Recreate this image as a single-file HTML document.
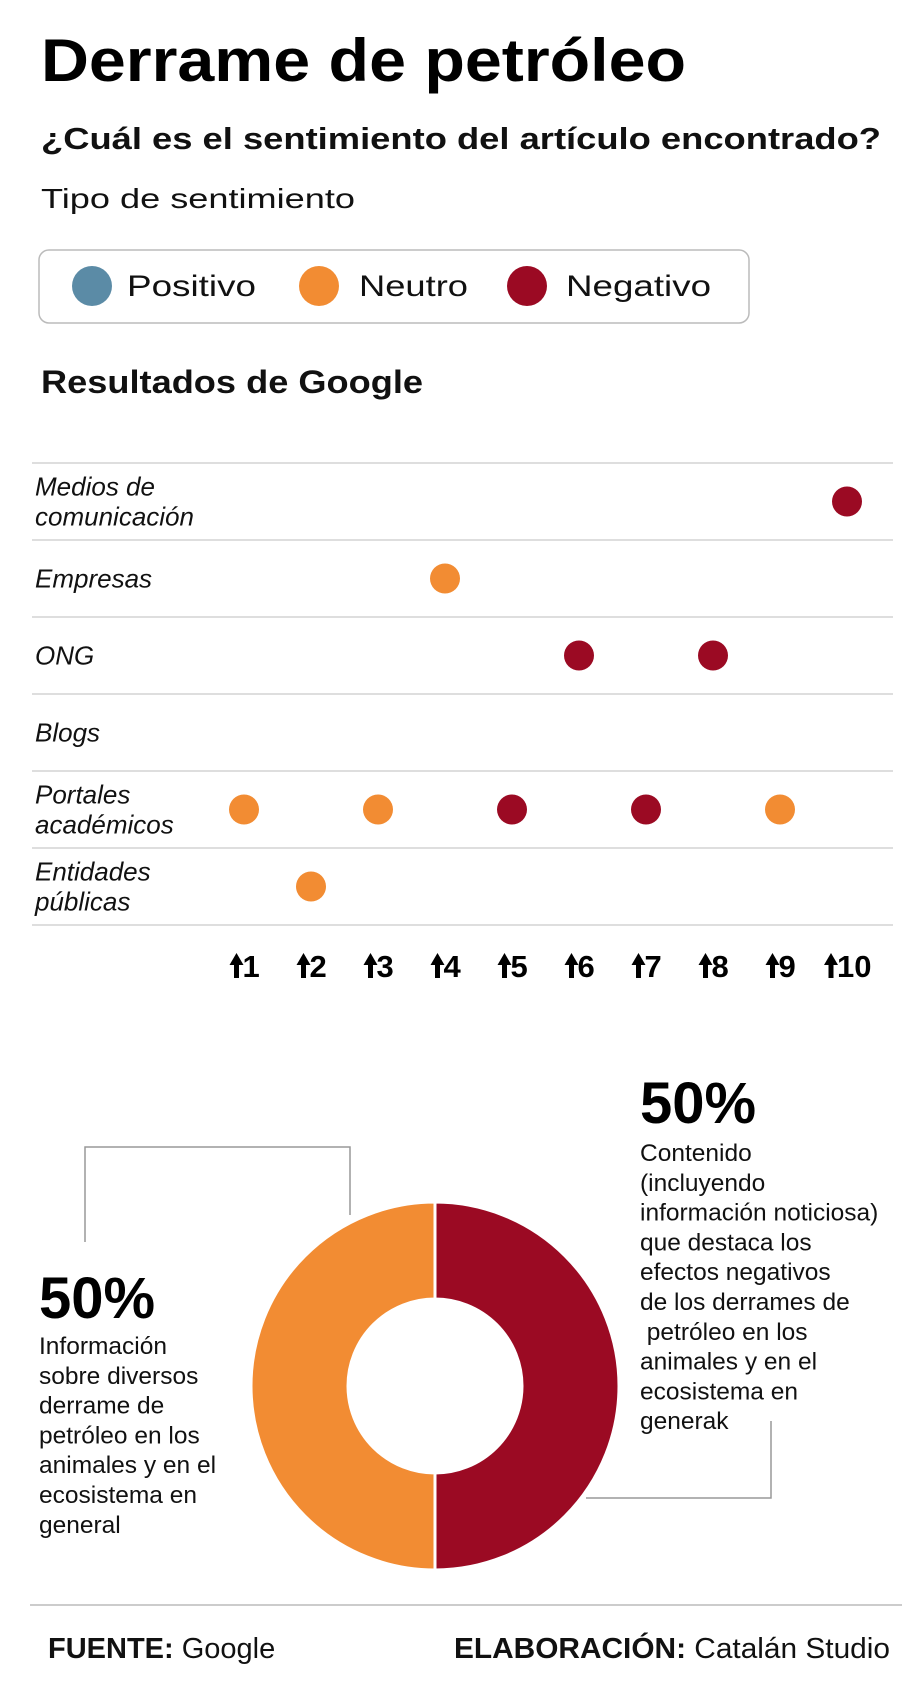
<!DOCTYPE html>
<html><head><meta charset="utf-8"><style>
body{margin:0;background:#fff;}
svg{display:block;font-family:"Liberation Sans",sans-serif;}
</style></head><body>
<svg id="chart" width="920" height="1690" viewBox="0 0 920 1690">
<text x="41" y="81" font-size="60" font-weight="bold" fill="#000" textLength="645" lengthAdjust="spacingAndGlyphs">Derrame de petróleo</text>
<text x="41" y="149" font-size="31" font-weight="bold" fill="#111" textLength="840" lengthAdjust="spacingAndGlyphs">¿Cuál es el sentimiento del artículo encontrado?</text>
<text x="41" y="208" font-size="28" fill="#111" textLength="314" lengthAdjust="spacingAndGlyphs">Tipo de sentimiento</text>
<g>
<rect x="39" y="250" width="710" height="73" rx="10" fill="#fff" stroke="#bbb" stroke-width="1.5"/>
<g><circle cx="92" cy="286" r="20" fill="#5B8BA6"/><text x="127" y="296" font-size="30" fill="#111" textLength="129" lengthAdjust="spacingAndGlyphs">Positivo</text></g>
<g><circle cx="319" cy="286" r="20" fill="#F28C33"/><text x="359" y="296" font-size="30" fill="#111" textLength="109" lengthAdjust="spacingAndGlyphs">Neutro</text></g>
<g><circle cx="527" cy="286" r="20" fill="#9B0A23"/><text x="566" y="296" font-size="30" fill="#111" textLength="145" lengthAdjust="spacingAndGlyphs">Negativo</text></g>
</g>
<text x="41" y="393" font-size="32" font-weight="bold" fill="#111" textLength="382" lengthAdjust="spacingAndGlyphs">Resultados de Google</text>
<g id="dotplot"></g>
<g id="donut"></g>
<polyline points="85,1242 85,1147 350,1147 350,1215" fill="none" stroke="#999" stroke-width="1.5"/>
<polyline points="771,1421 771,1498 586,1498" fill="none" stroke="#999" stroke-width="1.5"/>
<g>
<text x="640" y="1123" font-size="58" font-weight="bold" fill="#000">50%</text>
<text font-size="24.5" fill="#111">
<tspan x="640" y="1161">Contenido</tspan><tspan x="640" dy="29.8">(incluyendo</tspan><tspan x="640" dy="29.8">información noticiosa)</tspan><tspan x="640" dy="29.8">que destaca los</tspan><tspan x="640" dy="29.8">efectos negativos</tspan><tspan x="640" dy="29.8">de los derrames de</tspan><tspan x="640" dy="29.8"> petróleo en los</tspan><tspan x="640" dy="29.8">animales y en el</tspan><tspan x="640" dy="29.8">ecosistema en</tspan><tspan x="640" dy="29.8">generak</tspan></text>
</g>
<g>
<text x="39" y="1318" font-size="58" font-weight="bold" fill="#000">50%</text>
<text font-size="24.5" fill="#111">
<tspan x="39" y="1354">Información</tspan><tspan x="39" dy="29.8">sobre diversos</tspan><tspan x="39" dy="29.8">derrame de</tspan><tspan x="39" dy="29.8">petróleo en los</tspan><tspan x="39" dy="29.8">animales y en el</tspan><tspan x="39" dy="29.8">ecosistema en</tspan><tspan x="39" dy="29.8">general</tspan></text>
</g>
<line x1="30" y1="1605" x2="902" y2="1605" stroke="#bbb" stroke-width="1.5"/>
<text x="48" y="1658" font-size="29" fill="#111"><tspan font-weight="bold">FUENTE:</tspan> Google</text>
<text x="454" y="1658" font-size="29" fill="#111" textLength="436" lengthAdjust="spacingAndGlyphs"><tspan font-weight="bold">ELABORACIÓN:</tspan> Catalán Studio</text>
</svg>
<script>
const categories = [["Medios de","comunicación"],["Empresas"],["ONG"],["Blogs"],["Portales","académicos"],["Entidades","públicas"]];
const rankTicks = [1,2,3,4,5,6,7,8,9,10];
const tickLabels = ["1","2","3","4","5","6","7","8","9","10"];
const pointCategory = [0,1,2,2,4,4,4,4,4,5];
const pointRank = [10,4,6,8,1,3,5,7,9,2];
const pointSentiment = ["Negativo","Neutro","Negativo","Negativo","Neutro","Neutro","Negativo","Negativo","Neutro","Neutro"];
const donutLabels = ["Negativo","Neutro"];
const donutValues = [50,50];

const NS="http://www.w3.org/2000/svg";
const colors={Positivo:"#5B8BA6",Neutro:"#F28C33",Negativo:"#9B0A23"};
function mk(tag,attrs,parent){const e=document.createElementNS(NS,tag);for(const k in attrs)e.setAttribute(k,attrs[k]);parent.appendChild(e);return e;}
const top0=463,rowH=77;
function xScale(r){return 244+(r-1)*67;}
function yScale(c){return top0+rowH*c+rowH/2;}
const dp=document.getElementById('dotplot');
for(let i=0;i<=categories.length;i++){
  const l=mk('line',{x1:32,x2:893,y1:top0+i*rowH,y2:top0+i*rowH,stroke:'#d4d4d4','stroke-width':1.5},dp);
  
  
}
categories.forEach((c,i)=>{
  const t=mk('text',{'font-size':26,'font-style':'italic',fill:'#111'},dp);
  
  
  const y0=yScale(i)+(c.length===1?9:-6);
  c.forEach((s,j)=>{const ts=mk('tspan',{x:35,y:y0+j*30},t);ts.textContent=s;});
});
rankTicks.forEach((r,i)=>{
  const g=mk('g',{},dp);
  
  
  const x=xScale(r);
  const w=tickLabels[i].length*17;
  const ax=x-w/2+1;
  mk('path',{d:`M${ax-7},${965} L${ax},${953} L${ax+7},${965} L${ax+2.5},${965} L${ax+2.5},${978} L${ax-2.5},${978} L${ax-2.5},${965} Z`,fill:'#000'},g);
  const t=mk('text',{x:ax+6,y:977,'font-size':31,'font-weight':'bold',fill:'#000'},g);
  t.textContent=tickLabels[i];
});
pointRank.forEach((r,i)=>{
  const c=mk('circle',{cx:xScale(r),cy:yScale(pointCategory[i]),r:15,fill:colors[pointSentiment[i]]},dp);
  
  
});
const dn=document.getElementById('donut');
const cx=435,cy=1386,R=184,r0=87;
const total=donutValues.reduce((a,b)=>a+b,0);
let a=-Math.PI/2;
donutValues.forEach((v,i)=>{
  const a2=a+v/total*Math.PI*2;
  const large=(a2-a)>Math.PI?1:0;
  const p=(rad,ang)=>[cx+rad*Math.cos(ang),cy+rad*Math.sin(ang)];
  const [x1,y1]=p(R,a),[x2,y2]=p(R,a2),[x3,y3]=p(r0,a2),[x4,y4]=p(r0,a);
  const s=mk('path',{d:`M${x1},${y1} A${R},${R} 0 ${large} 1 ${x2},${y2} L${x3},${y3} A${r0},${r0} 0 ${large} 0 ${x4},${y4} Z`,fill:colors[donutLabels[i]],stroke:'#fff','stroke-width':3},dn);
  
  
  a=a2;
});
</script>
</body></html>
